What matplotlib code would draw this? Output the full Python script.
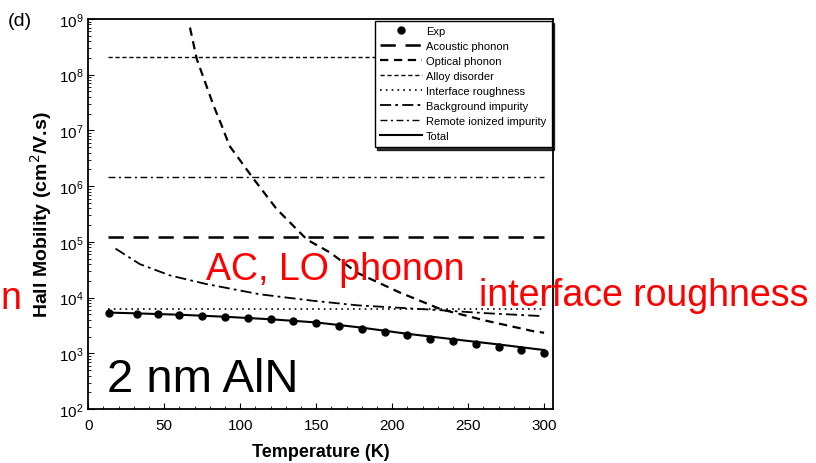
import matplotlib.pyplot as plt
from matplotlib.ticker import LogLocator, MultipleLocator, NullFormatter

plt.rcParams['font.family'] = ['Liberation Sans', 'DejaVu Sans']
plt.rcParams['lines.scale_dashes'] = False

# measured Hall mobility
T_exp = [14, 32, 46, 60, 75, 90, 105, 120, 135, 150, 165, 180, 195, 210, 225, 240, 255, 270, 285, 300]
mu_exp = [5300, 5150, 5050, 4900, 4700, 4500, 4300, 4100, 3850, 3500, 3150, 2750, 2400, 2100,
          1850, 1650, 1500, 1300, 1170, 1030]

# calculated total mobility
T_tot = [14, 30, 60, 90, 120, 150, 180, 210, 240, 270, 300]
mu_tot = [5400, 5250, 4950, 4550, 4100, 3600, 2900, 2250, 1800, 1450, 1150]

# optical phonon limited
T_op = [67, 71.5, 82.5, 88, 93, 100, 108, 124, 144, 159, 177, 205, 232, 262, 293, 300]
mu_op = [7e8, 1.9e8, 2.8e7, 1.2e7, 5.3e6, 2.9e6, 1.45e6, 3.9e5, 1.1e5, 6.5e4, 2.8e4, 1.24e4,
         6200, 3850, 2500, 2350]

# background impurity limited
T_bg = [18, 34, 54, 78, 113, 148, 177, 230, 260, 297]
mu_bg = [7.6e4, 4.0e4, 2.5e4, 1.75e4, 1.15e4, 8.8e3, 7.3e3, 6.0e3, 5.3e3, 4.7e3]

# temperature independent mechanisms
T_flat = [13, 300]
mu_ac = [1.25e5, 1.25e5]
mu_alloy = [2.05e8, 2.05e8]
mu_ir = [6200, 6200]
mu_remote = [1.45e6, 1.45e6]

fig = plt.figure(figsize=(8.16, 4.64), dpi=100)
ax = fig.add_axes([0.108, 0.116, 0.570, 0.841])

ax.plot(T_exp, mu_exp, 'o', color='black', ms=5, label='Exp')
ax.plot(T_flat, mu_ac, color='black', lw=1.8, dashes=(11, 7), label='Acoustic phonon')
ax.plot(T_op, mu_op, color='black', lw=1.6, dashes=(6, 4), label='Optical phonon')
ax.plot(T_flat, mu_alloy, color='black', lw=1.0, dashes=(3, 2), label='Alloy disorder')
ax.plot(T_flat, mu_ir, color='black', lw=1.2, dashes=(1.2, 3), label='Interface roughness')
ax.plot(T_bg, mu_bg, color='black', lw=1.3, dashes=(8, 3, 2, 3), label='Background impurity')
ax.plot(T_flat, mu_remote, color='black', lw=1.0, dashes=(5, 2.5, 1.5, 2.5), label='Remote ionized impurity')
ax.plot(T_tot, mu_tot, color='black', lw=1.5, label='Total')

ax.set_yscale('log')
ax.set_xlim(0, 306)
ax.set_ylim(1e2, 1e9)
ax.xaxis.set_major_locator(MultipleLocator(50))
ax.xaxis.set_minor_locator(MultipleLocator(10))
ax.yaxis.set_major_locator(LogLocator(base=10, numticks=10))
ax.yaxis.set_minor_locator(LogLocator(base=10, subs=range(2, 10), numticks=100))
ax.yaxis.set_minor_formatter(NullFormatter())
ax.tick_params(which='both', direction='in', top=False, right=False, labelsize=11)
ax.tick_params(axis='x', pad=6)
ax.tick_params(which='major', length=4)
ax.tick_params(which='minor', length=2)
for s in ax.spines.values():
    s.set_linewidth(1.3)

ax.set_xlabel('Temperature (K)', fontsize=13, fontweight='bold', labelpad=8)
ax.set_ylabel('Hall Mobility (cm$^2$/V.s)', fontsize=14, fontweight='bold', labelpad=3)

leg = ax.legend(loc='upper right', bbox_to_anchor=(1.0, 1.0), borderaxespad=0.15,
                fontsize=8, labelspacing=0.45, handlelength=3.8, handletextpad=0.3,
                borderpad=0.5, fancybox=False, edgecolor='black', framealpha=1,
                shadow={'color': 'black', 'alpha': 0.8})
leg.get_frame().set_linewidth(1.0)

fig.text(0.010, 0.953, '(d)', fontsize=14, va='center')
fig.text(0.252, 0.397, 'AC, LO phonon', fontsize=27, color='red', va='baseline')
fig.text(0.587, 0.340, 'interface roughness', fontsize=27, color='red', va='baseline')
fig.text(0.0, 0.335, 'n', fontsize=27, color='red', ha='left', va='baseline')
fig.text(0.131, 0.155, '2 nm AlN', fontsize=34, color='black', va='baseline')

fig.savefig('out.png', dpi=100)
